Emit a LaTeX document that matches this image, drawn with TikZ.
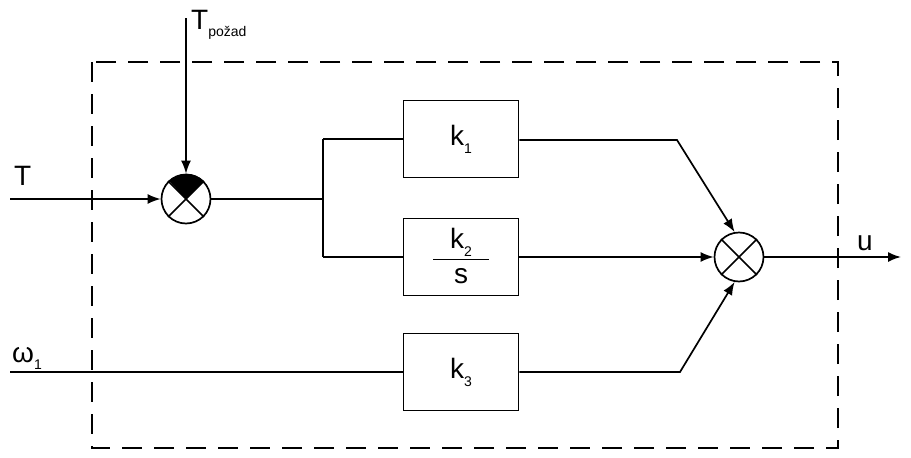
\documentclass[tikz,border=0pt]{standalone}
\usepackage{fontspec}
\setmainfont{Liberation Sans}
\usetikzlibrary{arrows.meta}
\tikzset{
  wire/.style={line width=1.7pt},
  arr/.style={wire,-{Latex[length=13pt,width=10pt]}},
  blk/.style={draw,line width=1.7pt,minimum width=115pt,minimum height=77pt,inner sep=0pt,font=\fontsize{28}{30}\selectfont},
  summ/.style={draw,circle,line width=1.7pt,minimum size=49pt,inner sep=0pt},
  lbl/.style={font=\fontsize{28}{30}\selectfont,inner sep=0pt},
}
\newcommand{\sub}[1]{\raisebox{-0.28em}{\fontsize{14}{16}\selectfont #1}}
\begin{document}
\begin{tikzpicture}[x=1pt,y=-1pt]
\useasboundingbox (0,0) rectangle (911,458);
% dashed frame
\draw[line width=1.7pt,dash pattern=on 20pt off 12pt] (92,62) rectangle (838,448);
% nodes
\node[summ] (s1) at (186,199) {};
\node[summ] (s2) at (739,257) {};
\node[blk] (k1) at (461,139) {k\sub{1}};
\node[blk] (k2) at (461,257) {};
\node[blk] (k3) at (461,372) {k\sub{3}};
\node[font=\fontsize{28}{30}\selectfont,inner sep=0pt] (k2t) at (461,242) {k\sub{2}};
\node[font=\fontsize{28}{30}\selectfont,inner sep=0pt] (k2b) at (461,276) {s};
\draw[line width=0.8pt] (433,259) -- (489,259);
% sum crosses
\fill (s1.center) -- (s1.45) arc (45:135:24.5pt) -- cycle;
\draw[wire] (s1.45) -- (s1.225) (s1.135) -- (s1.315);
\draw[wire] (s2.45) -- (s2.225) (s2.135) -- (s2.315);
% inputs
\coordinate (tin) at (10,199);
\coordinate (tp) at (186,18);
\coordinate (win) at (10,372);
\coordinate (br) at (323,199);
\coordinate (c1) at (677,140);
\coordinate (c3) at (680,372);
\coordinate (uout) at (901,257);
\draw[arr] (tin) -- (s1);
\draw[arr] (tp) -- (s1);
\draw[wire] (s1) -- (br);
\draw[wire] (br |- k1.west) -- (br |- k2.west);
\draw[wire] (br |- k1.west) -- (k1.west);
\draw[wire] (br |- k2.west) -- (k2.west);
\draw[wire] (win) -- (k3.west);
\draw[arr] (k1.east |- c1) -- (c1) -- (s2.100);
\draw[arr] (k2.east) -- (s2);
\draw[arr] (k3.east) -- (c3) -- (s2.260);
\draw[arr] (s2) -- (uout);
% labels
\node[lbl,anchor=base west] (lT) at (14,185) {T};
\node[lbl,anchor=base west] (lTp) at (191,29) {T\sub{požad}};
\node[lbl,anchor=base west] (lw) at (12,362) {ω\sub{1}};
\node[lbl,anchor=base west] (lu) at (857,250) {u};
\end{tikzpicture}
\end{document}
